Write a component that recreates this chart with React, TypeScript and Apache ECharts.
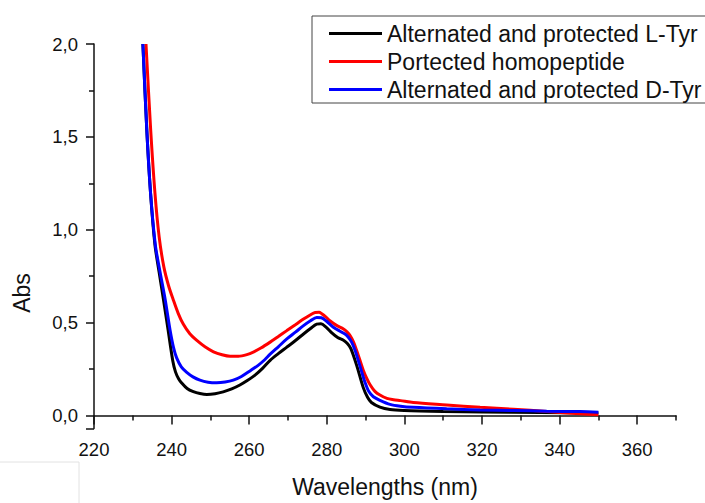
import React, { useEffect, useRef } from "react";
import * as echarts from "echarts";

const seriesNames = [
  "Alternated and protected L-Tyr",
  "Portected homopeptide",
  "Alternated and protected D-Tyr",
];
const seriesColors = ["#000000", "#ff0000", "#0000ff"];

const blackLTyr: [number, number][] = [
  [232.6, 2.0], [233.6, 1.54], [234.6, 1.19], [235.7, 0.92], [236.8, 0.77], [237.9, 0.625],
  [239.1, 0.46], [240.3, 0.295], [241.0, 0.235], [241.8, 0.198], [242.6, 0.175], [244.0, 0.145],
  [245.6, 0.128], [247.3, 0.118], [249.1, 0.113], [251.2, 0.117], [253.3, 0.127], [255.5, 0.143],
  [257.6, 0.164], [259.5, 0.188], [261.5, 0.217], [263.5, 0.255], [265.4, 0.297], [267.5, 0.333],
  [269.7, 0.368], [272.0, 0.405], [274.0, 0.439], [275.8, 0.468], [277.4, 0.492], [278.5, 0.494],
  [279.8, 0.476], [281.3, 0.445], [282.8, 0.42], [284.3, 0.405], [285.3, 0.388], [286.2, 0.36],
  [287.7, 0.27], [289.4, 0.15], [290.5, 0.098], [291.5, 0.07], [293.7, 0.045], [296.3, 0.032],
  [300.0, 0.027], [310.0, 0.022], [320.0, 0.019], [335.0, 0.016], [350.0, 0.014],
];

const redHomopeptide: [number, number][] = [
  [233.4, 2.0], [234.6, 1.54], [235.7, 1.2], [236.8, 0.96], [238.0, 0.8], [239.2, 0.7],
  [240.4, 0.625], [241.7, 0.55], [243.0, 0.492], [244.7, 0.44], [246.5, 0.404], [248.6, 0.37],
  [250.8, 0.343], [253.0, 0.327], [255.1, 0.319], [257.2, 0.319], [259.4, 0.328], [261.2, 0.343],
  [263.0, 0.363], [265.4, 0.395], [267.5, 0.425], [269.7, 0.457], [272.0, 0.49], [274.0, 0.519],
  [275.6, 0.54], [277.0, 0.555], [278.0, 0.556], [278.7, 0.548], [279.8, 0.53], [280.8, 0.51],
  [282.5, 0.485], [284.3, 0.466], [285.2, 0.45], [286.0, 0.43], [286.9, 0.395], [287.7, 0.35],
  [288.5, 0.3], [289.4, 0.244], [290.3, 0.2], [291.2, 0.164], [292.4, 0.13], [293.7, 0.11],
  [295.5, 0.092], [297.2, 0.085], [299.0, 0.08], [302.3, 0.07], [310.9, 0.057], [319.5, 0.044],
  [328.1, 0.034], [336.7, 0.021], [345.3, 0.009], [350.0, 0.004],
];

const blueDTyr: [number, number][] = [
  [232.6, 2.0], [233.6, 1.54], [234.6, 1.19], [235.8, 0.92], [237.0, 0.775], [238.3, 0.63],
  [239.6, 0.46], [240.5, 0.365], [241.3, 0.31], [242.5, 0.262], [243.9, 0.232], [245.5, 0.208],
  [247.3, 0.19], [249.4, 0.179], [251.6, 0.176], [253.8, 0.18], [255.9, 0.19], [258.0, 0.21],
  [260.2, 0.24], [262.3, 0.27], [264.0, 0.3], [265.4, 0.33], [267.5, 0.37], [269.7, 0.412],
  [272.0, 0.45], [274.0, 0.484], [275.8, 0.51], [277.4, 0.528], [278.6, 0.526], [279.8, 0.51],
  [281.7, 0.475], [283.3, 0.455], [284.7, 0.439], [285.6, 0.42], [286.4, 0.395], [287.3, 0.35],
  [288.1, 0.297], [289.0, 0.235], [289.8, 0.181], [290.8, 0.13], [292.0, 0.101], [293.7, 0.082],
  [296.3, 0.06], [299.0, 0.05], [302.3, 0.044], [310.9, 0.036], [319.5, 0.03], [328.1, 0.027],
  [336.7, 0.023], [345.3, 0.021], [350.0, 0.018],
];

const xMajorTicks = [220, 240, 260, 280, 300, 320, 340, 360];
const xMinorTicks = [230, 250, 270, 290, 310, 330, 350, 370];
const yMajorLabels = [0, 0.5, 1.0, 1.5, 2.0];
const yMajorTicks = [-0.07, 0, 0.5, 1.0, 1.5, 2.0];
const yMinorTicks = [0.25, 0.75, 1.25, 1.75];

const FONT = "'Liberation Sans', Arial, sans-serif";
const AXIS_COLOR = "#111111";
const TEXT_COLOR = "#111111";

export default function App() {
  const ref = useRef<HTMLDivElement>(null);

  useEffect(() => {
    if (!ref.current) return;
    const chart = echarts.init(ref.current, undefined, { renderer: "svg" });
    const axisLine = { show: true, lineStyle: { color: AXIS_COLOR, width: 1.5 } };
    const seriesData = [blackLTyr, redHomopeptide, blueDTyr];
    chart.setOption({
      animation: false,
      backgroundColor: "#ffffff",
      textStyle: { fontFamily: FONT },
      grid: { left: 94, right: 29, top: 44, bottom: 71, containLabel: false },
      legend: {
        data: seriesNames,
        orient: "vertical",
        left: 312,
        top: 16,
        icon: "rect",
        itemWidth: 53,
        itemHeight: 3,
        itemGap: 5,
        padding: [6, 5, 2, 17],
        borderColor: "#444444",
        borderWidth: 1,
        selectedMode: false,
        textStyle: { fontSize: 23, lineHeight: 23, color: TEXT_COLOR, fontFamily: FONT },
      },
      xAxis: [
        {
          type: "value",
          min: 220,
          max: 370,
          position: "bottom",
          axisLine,
          axisTick: { show: true, length: 9, customValues: xMajorTicks, lineStyle: { color: AXIS_COLOR, width: 1.5 } },
          axisLabel: { customValues: xMajorTicks, margin: 11, fontSize: 18.5, color: TEXT_COLOR, fontFamily: FONT },
          splitLine: { show: false },
          name: "Wavelengths (nm)",
          nameLocation: "middle",
          nameGap: 58,
          nameTextStyle: { fontSize: 23, color: TEXT_COLOR, fontFamily: FONT, verticalAlign: "middle" },
        },
        {
          type: "value",
          min: 220,
          max: 370,
          position: "bottom",
          axisLine: { show: false },
          axisTick: { show: true, length: 5, customValues: xMinorTicks, lineStyle: { color: AXIS_COLOR, width: 1.5 } },
          axisLabel: { show: false },
          splitLine: { show: false },
        },
      ],
      yAxis: [
        {
          type: "value",
          min: -0.07,
          max: 2.0,
          position: "left",
          axisLine,
          axisTick: { show: true, length: 8, customValues: yMajorTicks, lineStyle: { color: AXIS_COLOR, width: 1.5 } },
          axisLabel: {
            customValues: yMajorLabels,
            margin: 16,
            fontSize: 18.5,
            color: TEXT_COLOR,
            fontFamily: FONT,
            formatter: (v: number) => v.toFixed(1).replace(".", ","),
          },
          splitLine: { show: false },
        },
        {
          type: "value",
          min: -0.07,
          max: 2.0,
          position: "left",
          axisLine: { show: false },
          axisTick: { show: true, length: 5, customValues: yMinorTicks, lineStyle: { color: AXIS_COLOR, width: 1.5 } },
          axisLabel: { show: false },
          splitLine: { show: false },
        },
      ],
      graphic: [
        {
          type: "text",
          x: 22,
          y: 293,
          rotation: Math.PI / 2,
          style: {
            text: "Abs",
            fontSize: 23,
            fontFamily: FONT,
            fill: TEXT_COLOR,
            align: "center",
            verticalAlign: "middle",
          },
        },
        {
          type: "polyline",
          shape: { points: [[0, 462], [79, 462], [79, 503]] },
          style: { stroke: "#e2e2e2", lineWidth: 1, fill: "none" },
          silent: true,
        },
      ],
      series: seriesNames.map((name, i) => ({
        name,
        type: "line",
        xAxisIndex: 0,
        yAxisIndex: 0,
        data: seriesData[i],
        showSymbol: false,
        symbol: "none",
        smooth: 0.3,
        color: seriesColors[i],
        lineStyle: { color: seriesColors[i], width: 3 },
        emphasis: { disabled: true },
      })),
    });
    return () => chart.dispose();
  }, []);

  return (
    <div
      ref={ref}
      style={{ position: "fixed", left: 0, top: 0, width: 705, height: 503, background: "#fff" }}
    />
  );
}
